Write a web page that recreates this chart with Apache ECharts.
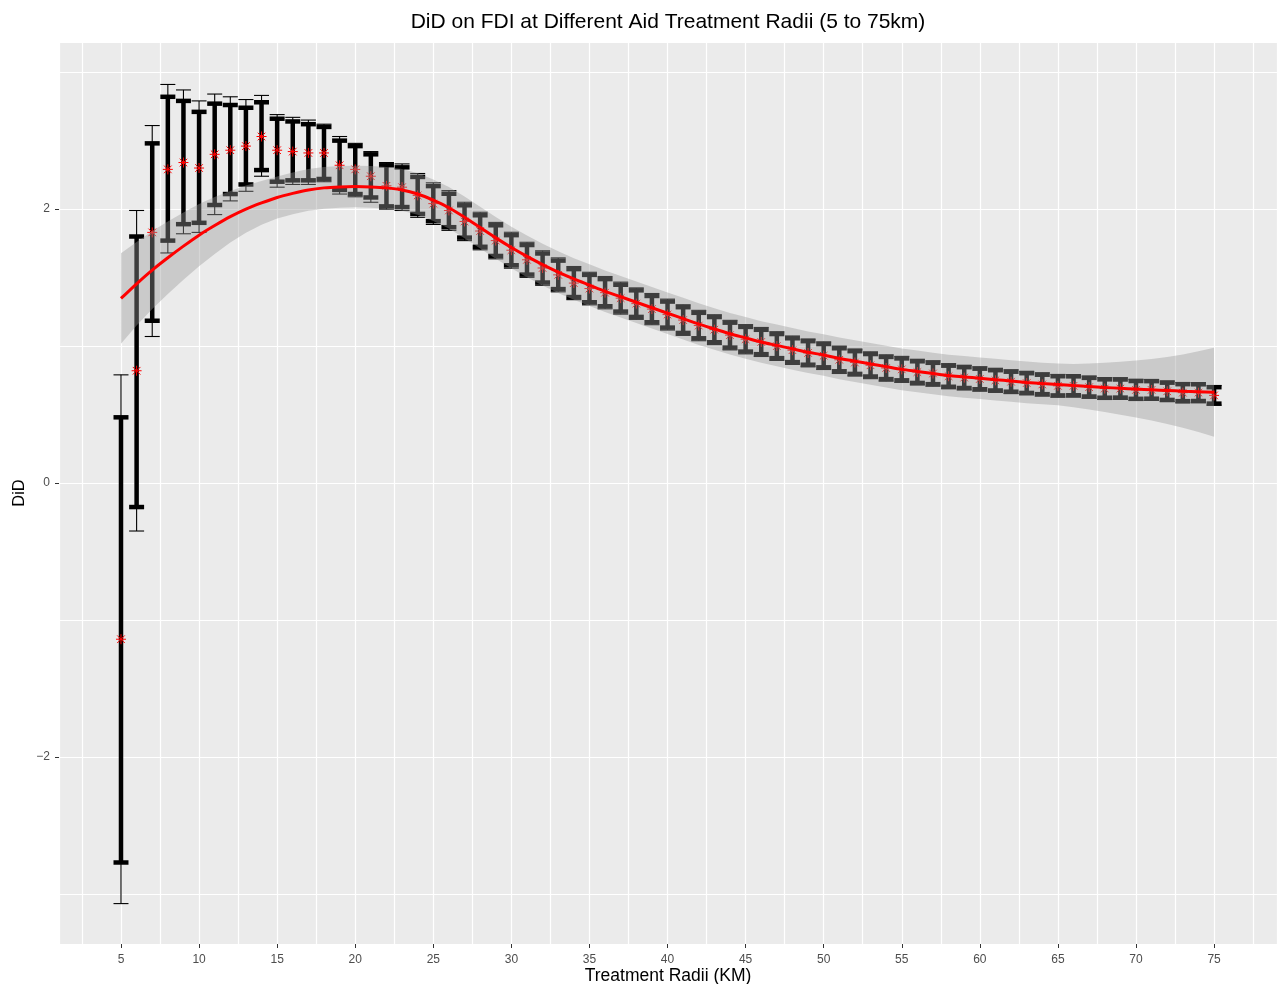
<!DOCTYPE html>
<html>
<head>
<meta charset="utf-8">
<script src="https://cdn.jsdelivr.net/npm/echarts@6/dist/echarts.min.js"></script>
<style>
html,body{margin:0;padding:0;background:#fff;}
#chart{width:1280px;height:984px;}
</style>
</head>
<body>
<div id="chart"></div>
<script>
const radii = [5,6,7,8,9,10,11,12,13,14,15,16,17,18,19,20,21,22,23,24,25,26,27,28,29,30,31,32,33,34,35,36,37,38,39,40,41,42,43,44,45,46,47,48,49,50,51,52,53,54,55,56,57,58,59,60,61,62,63,64,65,66,67,68,69,70,71,72,73,74,75];

const estimate = [-1.14,0.82,1.83,2.29,2.34,2.30,2.40,2.43,2.46,2.53,2.43,2.42,2.41,2.41,2.32,2.29,2.24,2.17,2.16,2.10,2.04,1.99,1.91,1.84,1.77,1.70,1.63,1.57,1.52,1.46,1.42,1.39,1.35,1.31,1.27,1.23,1.19,1.15,1.12,1.08,1.05,1.03,1.00,0.97,0.95,0.93,0.90,0.88,0.86,0.84,0.83,0.81,0.80,0.78,0.77,0.76,0.75,0.74,0.73,0.72,0.71,0.71,0.70,0.69,0.69,0.68,0.68,0.67,0.66,0.66,0.64];

const ci90Low = [-2.77,-0.175,1.185,1.77,1.89,1.90,2.03,2.11,2.18,2.285,2.20,2.21,2.21,2.22,2.14,2.11,2.085,2.02,2.015,1.965,1.912,1.868,1.792,1.725,1.658,1.59,1.522,1.464,1.416,1.358,1.32,1.291,1.252,1.213,1.174,1.135,1.096,1.057,1.028,0.989,0.96,0.941,0.912,0.883,0.864,0.845,0.816,0.797,0.778,0.759,0.75,0.731,0.722,0.703,0.694,0.685,0.676,0.667,0.658,0.649,0.64,0.641,0.632,0.623,0.624,0.615,0.616,0.607,0.598,0.599,0.58];

const ci90High = [0.48,1.80,2.48,2.82,2.79,2.71,2.77,2.76,2.74,2.78,2.66,2.64,2.62,2.60,2.50,2.46,2.40,2.32,2.305,2.235,2.168,2.112,2.028,1.955,1.882,1.81,1.738,1.676,1.624,1.562,1.52,1.489,1.448,1.407,1.366,1.325,1.284,1.243,1.212,1.171,1.14,1.119,1.088,1.057,1.036,1.015,0.984,0.963,0.942,0.921,0.91,0.889,0.878,0.857,0.846,0.835,0.824,0.813,0.802,0.791,0.78,0.779,0.768,0.757,0.756,0.745,0.744,0.733,0.722,0.721,0.70];

const ci95Low = [-3.07,-0.35,1.07,1.68,1.82,1.83,1.96,2.06,2.13,2.24,2.16,2.18,2.18,2.20,2.11,2.09,2.05,2.00,1.99,1.94,1.888,1.845,1.77,1.703,1.637,1.569,1.502,1.444,1.396,1.339,1.301,1.272,1.233,1.195,1.156,1.117,1.078,1.039,1.011,0.972,0.943,0.924,0.895,0.866,0.848,0.829,0.80,0.781,0.762,0.744,0.735,0.716,0.707,0.688,0.68,0.671,0.662,0.653,0.644,0.635,0.627,0.628,0.619,0.61,0.611,0.603,0.604,0.595,0.586,0.587,0.569];

const ci95High = [0.79,1.99,2.61,2.91,2.87,2.79,2.84,2.82,2.80,2.83,2.69,2.67,2.65,2.62,2.53,2.48,2.42,2.34,2.33,2.26,2.192,2.135,2.05,1.977,1.903,1.831,1.758,1.696,1.644,1.581,1.539,1.508,1.467,1.425,1.384,1.343,1.302,1.261,1.229,1.188,1.157,1.136,1.105,1.074,1.052,1.031,1.00,0.979,0.958,0.936,0.925,0.904,0.893,0.872,0.86,0.849,0.838,0.827,0.816,0.805,0.793,0.792,0.781,0.77,0.769,0.757,0.756,0.745,0.734,0.733,0.711];

const smoothFit = [1.348,1.455,1.555,1.645,1.73,1.81,1.88,1.945,2.00,2.045,2.085,2.115,2.14,2.155,2.162,2.165,2.162,2.155,2.14,2.11,2.065,2.01,1.94,1.865,1.79,1.72,1.655,1.595,1.54,1.49,1.445,1.40,1.36,1.32,1.28,1.24,1.20,1.16,1.125,1.09,1.06,1.03,1.005,0.98,0.955,0.935,0.91,0.89,0.87,0.85,0.83,0.815,0.80,0.785,0.775,0.765,0.755,0.745,0.735,0.727,0.72,0.712,0.705,0.698,0.692,0.686,0.681,0.676,0.671,0.667,0.663];

const smoothLow = [1.018,1.15,1.27,1.38,1.485,1.582,1.672,1.757,1.828,1.885,1.932,1.963,1.988,2.003,2.01,2.013,2.01,2.003,1.988,1.958,1.913,1.858,1.788,1.713,1.638,1.568,1.503,1.443,1.388,1.338,1.293,1.248,1.208,1.168,1.128,1.088,1.048,1.008,0.973,0.938,0.908,0.878,0.853,0.828,0.803,0.783,0.758,0.738,0.718,0.698,0.678,0.663,0.648,0.633,0.623,0.613,0.603,0.593,0.583,0.575,0.568,0.554,0.537,0.518,0.499,0.478,0.456,0.431,0.403,0.372,0.338];

const smoothHigh = [1.678,1.76,1.84,1.91,1.975,2.038,2.088,2.133,2.172,2.205,2.238,2.267,2.292,2.307,2.314,2.317,2.314,2.307,2.292,2.262,2.217,2.162,2.092,2.017,1.942,1.872,1.807,1.747,1.692,1.642,1.597,1.552,1.512,1.472,1.432,1.392,1.352,1.312,1.277,1.242,1.212,1.182,1.157,1.132,1.107,1.087,1.062,1.042,1.022,1.002,0.982,0.967,0.952,0.937,0.927,0.917,0.907,0.897,0.887,0.879,0.872,0.87,0.873,0.878,0.885,0.894,0.906,0.921,0.939,0.962,0.988];

const xTicks = [5,10,15,20,25,30,35,40,45,50,55,60,65,70,75];
const yTicks = [-2,0,2];

const X_MIN = 1.03, X_MAX = 79.03, Y_MIN = -3.365, Y_MAX = 3.22;
const FONT = '"Liberation Sans", Arial, sans-serif';

const chart = echarts.init(document.getElementById('chart'), null, {renderer: 'canvas'});

const errData = radii.map((r, i) => [r, ci95Low[i], ci90Low[i], ci90High[i], ci95High[i]]);
const ptData = radii.map((r, i) => [r, estimate[i]]);
const fitData = radii.map((r, i) => [r, smoothFit[i]]);

function renderErr(params, api) {
  const x = api.value(0);
  const a = api.coord([x, api.value(1)]);
  const b = api.coord([x, api.value(2)]);
  const c = api.coord([x, api.value(3)]);
  const d = api.coord([x, api.value(4)]);
  const unit = api.size([1, 0])[0];
  const hw = unit * 0.48;
  const cx = a[0];
  const thin = {stroke: '#000', lineWidth: 1.1};
  const thick = {stroke: '#000', lineWidth: 4.5};
  return {
    type: 'group',
    children: [
      {type: 'line', shape: {x1: cx, y1: a[1], x2: cx, y2: d[1]}, style: thin},
      {type: 'line', shape: {x1: cx - hw, y1: a[1], x2: cx + hw, y2: a[1]}, style: thin},
      {type: 'line', shape: {x1: cx - hw, y1: d[1], x2: cx + hw, y2: d[1]}, style: thin},
      {type: 'line', shape: {x1: cx, y1: b[1], x2: cx, y2: c[1]}, style: thick},
      {type: 'line', shape: {x1: cx - hw, y1: b[1], x2: cx + hw, y2: b[1]}, style: thick},
      {type: 'line', shape: {x1: cx - hw, y1: c[1], x2: cx + hw, y2: c[1]}, style: thick}
    ]
  };
}

function renderStar(params, api) {
  const p = api.coord([api.value(0), api.value(1)]);
  const s = 5, dd = 3.8;
  const st = {stroke: '#FF0000', lineWidth: 1};
  return {
    type: 'group',
    children: [
      {type: 'line', shape: {x1: p[0] - s, y1: p[1], x2: p[0] + s, y2: p[1]}, style: st},
      {type: 'line', shape: {x1: p[0], y1: p[1] - s, x2: p[0], y2: p[1] + s}, style: st},
      {type: 'line', shape: {x1: p[0] - dd, y1: p[1] - dd, x2: p[0] + dd, y2: p[1] + dd}, style: st},
      {type: 'line', shape: {x1: p[0] - dd, y1: p[1] + dd, x2: p[0] + dd, y2: p[1] - dd}, style: st}
    ]
  };
}

function renderBand(params, api) {
  if (params.dataIndex !== 0) return null;
  const pts = [];
  for (let i = 0; i < radii.length; i++) pts.push(api.coord([radii[i], smoothHigh[i]]));
  for (let i = radii.length - 1; i >= 0; i--) pts.push(api.coord([radii[i], smoothLow[i]]));
  return {
    type: 'polygon',
    shape: {points: pts, smooth: 0},
    style: {fill: 'rgba(153,153,153,0.4)', stroke: 'none'}
  };
}

const option = {
  animation: false,
  backgroundColor: '#ffffff',
  grid: {left: 59, right: 3, top: 42, bottom: 40, show: true, backgroundColor: '#EBEBEB', borderWidth: 0},
  xAxis: [
    {
      type: 'value', min: X_MIN, max: X_MAX, position: 'bottom',
      axisLine: {show: false, onZero: false},
      axisTick: {show: true, customValues: xTicks, length: 4, lineStyle: {color: '#333333', width: 1}},
      axisLabel: {customValues: xTicks, color: '#4D4D4D', fontSize: 12, fontFamily: FONT, margin: 10},
      splitLine: {show: false}
    },
    {
      type: 'value', min: X_MIN, max: X_MAX, position: 'bottom', minInterval: 2.5, maxInterval: 2.5,
      axisLine: {show: false, onZero: false}, axisTick: {show: false}, axisLabel: {show: false},
      splitLine: {show: true, lineStyle: {color: '#FFFFFF', width: 1.2}}
    }
  ],
  yAxis: [
    {
      type: 'value', min: Y_MIN, max: Y_MAX,
      axisLine: {show: false, onZero: false},
      axisTick: {show: true, customValues: yTicks, length: 4, lineStyle: {color: '#333333', width: 1}},
      axisLabel: {customValues: yTicks, color: '#4D4D4D', fontSize: 12, fontFamily: FONT, margin: 9,
        formatter: v => String(v).replace('-', '\u2212')},
      splitLine: {show: false}
    },
    {
      type: 'value', min: Y_MIN, max: Y_MAX, minInterval: 1, maxInterval: 1,
      axisLine: {show: false, onZero: false}, axisTick: {show: false}, axisLabel: {show: false},
      splitLine: {show: true, lineStyle: {color: '#FFFFFF', width: 1.2}}
    }
  ],
  graphic: [
    {type: 'text', x: 668, y: 22, z: 10, style: {text: 'DiD on FDI at Different Aid Treatment Radii (5 to 75km)', font: '21px ' + FONT, fill: '#000', textAlign: 'center', textVerticalAlign: 'middle'}},
    {type: 'text', x: 668, y: 976, z: 10, style: {text: 'Treatment Radii (KM)', font: '17.5px ' + FONT, fill: '#000', textAlign: 'center', textVerticalAlign: 'middle'}},
    {type: 'text', x: 19, y: 493, rotation: Math.PI / 2, z: 10, style: {text: 'DiD', font: '16.5px ' + FONT, fill: '#000', textAlign: 'center', textVerticalAlign: 'middle'}}
  ],
  series: [
    {type: 'custom', name: 'CI', xAxisIndex: 0, yAxisIndex: 0, z: 2, renderItem: renderErr, data: errData, encode: {x: 0, y: [1, 2, 3, 4]}, silent: true},
    {type: 'custom', name: 'Estimate', xAxisIndex: 0, yAxisIndex: 0, z: 3, renderItem: renderStar, data: ptData, encode: {x: 0, y: 1}, silent: true},
    {type: 'custom', name: 'Band', xAxisIndex: 0, yAxisIndex: 0, z: 4, renderItem: renderBand, data: fitData, encode: {x: 0, y: 1}, silent: true},
    {type: 'line', name: 'Fit', xAxisIndex: 0, yAxisIndex: 0, z: 5, data: fitData, symbol: 'none', smooth: 0.3, lineStyle: {color: '#FF0000', width: 3}, silent: true}
  ]
};
chart.setOption(option);
</script>
</body>
</html>
